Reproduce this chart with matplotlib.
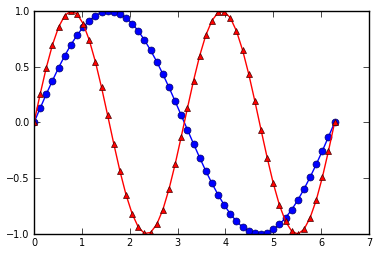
import matplotlib
matplotlib.use('Agg')
import matplotlib.pyplot as plt

# x positions (0 .. 2pi, 50 samples)
x = [0.000, 0.128, 0.256, 0.385, 0.513, 0.641, 0.769, 0.898, 1.026, 1.154,
     1.282, 1.411, 1.539, 1.667, 1.795, 1.923, 2.052, 2.180, 2.308, 2.436,
     2.565, 2.693, 2.821, 2.949, 3.077, 3.206, 3.334, 3.462, 3.590, 3.719,
     3.847, 3.975, 4.103, 4.232, 4.360, 4.488, 4.616, 4.744, 4.873, 5.001,
     5.129, 5.257, 5.386, 5.514, 5.642, 5.770, 5.899, 6.027, 6.155, 6.283]

# blue circles
y_blue = [0.000, 0.128, 0.254, 0.375, 0.491, 0.598, 0.696, 0.782, 0.855, 0.914,
          0.959, 0.987, 1.000, 0.995, 0.975, 0.939, 0.887, 0.820, 0.740, 0.648,
          0.546, 0.434, 0.315, 0.191, 0.064, -0.064, -0.191, -0.315, -0.434, -0.546,
          -0.648, -0.740, -0.820, -0.887, -0.939, -0.975, -0.995, -1.000, -0.987, -0.959,
          -0.914, -0.855, -0.782, -0.696, -0.598, -0.491, -0.375, -0.254, -0.128, 0.000]

# red triangles
y_red = [0.000, 0.254, 0.491, 0.696, 0.855, 0.959, 1.000, 0.975, 0.887, 0.740,
         0.546, 0.315, 0.064, -0.191, -0.434, -0.648, -0.820, -0.939, -0.995, -0.987,
         -0.914, -0.782, -0.598, -0.375, -0.128, 0.128, 0.375, 0.598, 0.782, 0.914,
         0.987, 0.995, 0.939, 0.820, 0.648, 0.434, 0.191, -0.064, -0.315, -0.546,
         -0.740, -0.887, -0.975, -1.000, -0.959, -0.855, -0.696, -0.491, -0.254, 0.000]

x_ticks = [0, 1, 2, 3, 4, 5, 6, 7]
y_ticks = [-1.0, -0.5, 0.0, 0.5, 1.0]

fig = plt.figure(figsize=(3.78, 2.56), dpi=100)
ax = fig.add_axes([0.09, 0.086, 0.886, 0.871])

ax.plot(x, y_blue, '-', color='blue', marker='o', markersize=5,
        markeredgecolor='#000066', markeredgewidth=0.5, linewidth=1)
ax.plot(x, y_red, '-', color='red', marker='^', markersize=5,
        markeredgecolor='#440000', markeredgewidth=0.5, linewidth=1)

ax.set_xlim(0, 7)
ax.set_ylim(-1, 1)
ax.set_xticks(x_ticks)
ax.set_yticks(y_ticks)
ax.set_xticklabels([str(t) for t in x_ticks])
ax.set_yticklabels([u'\u22121.0', u'\u22120.5', '0.0', '0.5', '1.0'])
ax.tick_params(direction='in', top=True, right=True, length=4, width=0.5,
               labelsize=7, pad=3)
for s in ax.spines.values():
    s.set_linewidth(1)

fig.savefig('out.png', dpi=100)
